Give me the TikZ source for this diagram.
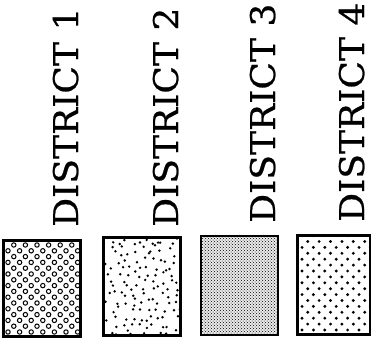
\documentclass[tikz,border=0pt]{standalone}
\usepackage{fontspec}
\setmainfont{DejaVu Serif}[FakeStretch=1.06, FakeBold=0.7]
\usetikzlibrary{patterns}

\begin{document}
\begin{tikzpicture}[x=1pt, y=1pt,
  swatch/.style={draw, line width=2.4pt, inner sep=0pt},
  distlabel/.style={rotate=90, anchor=base west, inner sep=0pt,
    font=\fontsize{34}{40}\selectfont},
  ring/.style={line width=1pt}]
\useasboundingbox (0,0) rectangle (371,345);
% legend labels
\node[distlabel] (l1) at (78,118) {DISTRICT 1};
\node[distlabel] (l2) at (178,118) {DISTRICT 2};
\node[distlabel] (l3) at (275,122) {DISTRICT 3};
\node[distlabel] (l4) at (364,123) {DISTRICT 4};
% swatches
\node[swatch, minimum width=76pt, minimum height=95pt] (k1) at (42,56.5) {};
\node[swatch, minimum width=76pt, minimum height=97pt] (k2) at (142,58.5) {};
\node[swatch, minimum width=75pt, minimum height=97pt] (k3) at (239.5,59.5) {};
\node[swatch, minimum width=72pt, minimum height=98pt] (k4) at (334,60) {};
% district 1: rings
\begin{scope}
  \clip (k1.south west) rectangle (k1.north east);
  \foreach \r in {0,...,16}
    \foreach \c in {0,...,6}
      \draw[ring] ({8+11.6*\c+5.8*mod(\r,2)},{13+5.8*\r}) circle (2.2);
\end{scope}
% district 2: scattered dots
\begin{scope}
  \clip (k2.south west) rectangle (k2.north east);
  \pgfmathsetseed{17}
  \foreach \r in {0,...,13}
    \foreach \c in {0,...,8} {
      \pgfmathsetmacro{\dx}{4*rand}
      \pgfmathsetmacro{\dy}{3.5*rand}
      \fill ({109+8.2*\c+4.1*mod(\r,2)+\dx},{14+7*\r+\dy}) circle (1.35);
    }
\end{scope}
% district 3: fine stipple
\fill[black!8] (k3.south west) rectangle (k3.north east);
\fill[pattern=crosshatch dots] (k3.south west) rectangle (k3.north east);
% district 4: regular dots
\begin{scope}
  \clip (k4.south west) rectangle (k4.north east);
  \foreach \r in {0,...,16}
    \foreach \c in {0,...,6}
      \fill ({302+11.4*\c+5.7*mod(\r,2)},{15+5.9*\r}) circle (1.6);
\end{scope}
\draw[line width=2.4pt] (k1.south west) rectangle (k1.north east);
\draw[line width=2.4pt] (k2.south west) rectangle (k2.north east);
\draw[line width=2.4pt] (k3.south west) rectangle (k3.north east);
\draw[line width=2.4pt] (k4.south west) rectangle (k4.north east);
\end{tikzpicture}
\end{document}
